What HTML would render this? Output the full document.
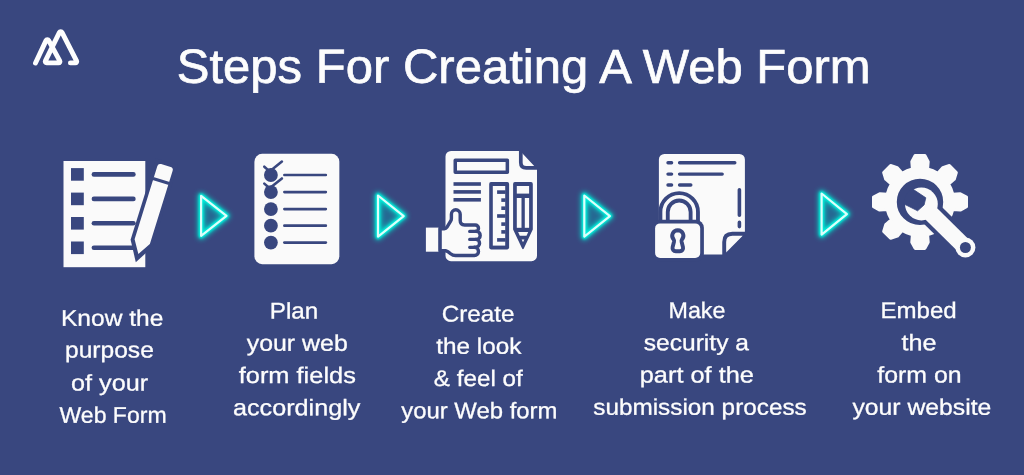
<!DOCTYPE html>
<html lang="en">
<head>
<meta charset="utf-8">
<title>Steps For Creating A Web Form</title>
<style>
html,body{margin:0;padding:0;}
body{width:1024px;height:475px;overflow:hidden;background:#39477f;position:relative;
font-family:"Liberation Sans",sans-serif;}
#art{position:absolute;left:0;top:0;width:1024px;height:475px;display:block;}
#txt{position:absolute;left:0;top:0;width:1024px;height:475px;will-change:transform;}
.step{margin:0;padding:0;}
.t{position:absolute;left:0;top:0;display:block;font-weight:normal;white-space:nowrap;color:#fdfdfd;margin:0;padding:0;transform-origin:0 0;text-rendering:geometricPrecision;-webkit-text-stroke:0.3px #fdfdfd;}
.title{font-size:47.9px;line-height:60px;-webkit-text-stroke-width:0.7px;}
.body{font-size:22.6px;line-height:30px;}
</style>
</head>
<body>
<svg id="art" width="1024" height="475" viewBox="0 0 1024 475" role="img" aria-label="Five step icons separated by arrows">
<defs>
<filter id="glow" x="-80%" y="-50%" width="260%" height="200%"><feGaussianBlur stdDeviation="2.8"/></filter>
<filter id="glow2" x="-60%" y="-40%" width="220%" height="180%"><feGaussianBlur stdDeviation="1.0"/></filter>
<clipPath id="headclip"><circle cx="921.4" cy="204" r="17.6"/></clipPath>
<filter id="glow3" x="-60%" y="-40%" width="220%" height="180%"><feGaussianBlur stdDeviation="0.45"/></filter>
</defs>
<path d="M35.50 63.00 L46.12 40.40 A1.4 1.4 0 0 1 48.62 40.33 L59.77 60.83 A1.4 1.4 0 0 1 58.54 62.90 L46.65 62.90 A1.4 1.4 0 0 1 45.40 60.88 L59.47 32.40 A1.4 1.4 0 0 1 61.97 32.38 L76.56 60.86 A1.4 1.4 0 0 1 75.31 62.90 L70.40 62.90" fill="none" stroke="#fdfdfd" stroke-width="4.9" stroke-linecap="round" stroke-linejoin="round"/>
<g><path d="M201.1 195.9 L226.5 215.9 L201.1 235.9 Z" fill="#0aa8b8" fill-opacity="0.4" stroke="#00dccc" stroke-width="7" stroke-linejoin="round" filter="url(#glow)" opacity="0.85"/><path d="M201.1 195.9 L226.5 215.9 L201.1 235.9 Z" fill="none" stroke="#00f2de" stroke-width="4.6" stroke-linejoin="round" filter="url(#glow2)"/><path d="M201.1 195.9 L226.5 215.9 L201.1 235.9 Z" fill="none" stroke="#dcfffb" stroke-width="2.2" stroke-linejoin="round" filter="url(#glow3)"/></g>
<g><path d="M378.0 195.5 L403.7 216.05 L378.0 236.6 Z" fill="#0aa8b8" fill-opacity="0.4" stroke="#00dccc" stroke-width="7" stroke-linejoin="round" filter="url(#glow)" opacity="0.85"/><path d="M378.0 195.5 L403.7 216.05 L378.0 236.6 Z" fill="none" stroke="#00f2de" stroke-width="4.6" stroke-linejoin="round" filter="url(#glow2)"/><path d="M378.0 195.5 L403.7 216.05 L378.0 236.6 Z" fill="none" stroke="#dcfffb" stroke-width="2.2" stroke-linejoin="round" filter="url(#glow3)"/></g>
<g><path d="M584.3 195.5 L609.9 216.05 L584.3 236.6 Z" fill="#0aa8b8" fill-opacity="0.4" stroke="#00dccc" stroke-width="7" stroke-linejoin="round" filter="url(#glow)" opacity="0.85"/><path d="M584.3 195.5 L609.9 216.05 L584.3 236.6 Z" fill="none" stroke="#00f2de" stroke-width="4.6" stroke-linejoin="round" filter="url(#glow2)"/><path d="M584.3 195.5 L609.9 216.05 L584.3 236.6 Z" fill="none" stroke="#dcfffb" stroke-width="2.2" stroke-linejoin="round" filter="url(#glow3)"/></g>
<g><path d="M821.6 193.5 L846.9 214.05 L821.6 234.6 Z" fill="#0aa8b8" fill-opacity="0.4" stroke="#00dccc" stroke-width="7" stroke-linejoin="round" filter="url(#glow)" opacity="0.85"/><path d="M821.6 193.5 L846.9 214.05 L821.6 234.6 Z" fill="none" stroke="#00f2de" stroke-width="4.6" stroke-linejoin="round" filter="url(#glow2)"/><path d="M821.6 193.5 L846.9 214.05 L821.6 234.6 Z" fill="none" stroke="#dcfffb" stroke-width="2.2" stroke-linejoin="round" filter="url(#glow3)"/></g>
<g id="i1">
<rect x="63.5" y="161" width="81.8" height="106.2" fill="#fafafa"/>
<rect x="71" y="168.1" width="12.8" height="12.6" fill="#39477f"/>
<path d="M93.9 174.4 H133.4" stroke="#39477f" stroke-width="4.6" stroke-linecap="round"/>
<rect x="71" y="192.6" width="12.8" height="12.6" fill="#39477f"/>
<path d="M93.9 198.9 H133.4" stroke="#39477f" stroke-width="4.6" stroke-linecap="round"/>
<rect x="71" y="217.0" width="12.8" height="12.6" fill="#39477f"/>
<path d="M93.9 223.3 H133.4" stroke="#39477f" stroke-width="4.6" stroke-linecap="round"/>
<rect x="71" y="241.5" width="12.8" height="12.6" fill="#39477f"/>
<path d="M93.9 247.8 H133.4" stroke="#39477f" stroke-width="4.6" stroke-linecap="round"/>
<g transform="translate(165.9 165.6) rotate(17.3)">
<path d="M-11.6 -4 H11.6 V81.4 L0 101.2 L-11.6 81.4 Z" fill="#39477f"/>
<path d="M-8 3 A3 3 0 0 1 -5 0 H5 A3 3 0 0 1 8 3 V79.6 L0 92.6 L-8 79.6 Z" fill="#fafafa"/>
<rect x="-8.5" y="14.6" width="17" height="3.1" fill="#39477f"/>
</g></g>
<g id="i2">
<rect x="254.4" y="153.85" width="84.95" height="110.3" rx="7.8" fill="#fafafa"/>
<circle cx="270.9" cy="175" r="6.9" fill="#39477f"/>
<path d="M284.4 175 H325.8" stroke="#39477f" stroke-width="2.7" stroke-linecap="round"/>
<circle cx="270.9" cy="192.1" r="6.9" fill="#39477f"/>
<path d="M284.4 192.1 H325.8" stroke="#39477f" stroke-width="2.7" stroke-linecap="round"/>
<circle cx="270.9" cy="209.1" r="6.9" fill="#39477f"/>
<path d="M284.4 209.1 H325.8" stroke="#39477f" stroke-width="2.7" stroke-linecap="round"/>
<circle cx="270.9" cy="225.7" r="6.9" fill="#39477f"/>
<path d="M284.4 225.7 H325.8" stroke="#39477f" stroke-width="2.7" stroke-linecap="round"/>
<circle cx="270.9" cy="242.6" r="6.9" fill="#39477f"/>
<path d="M284.4 242.6 H325.8" stroke="#39477f" stroke-width="2.7" stroke-linecap="round"/>
<path d="M264.3 166.7 L269.6 171.4 L281.9 161.6" fill="none" stroke="#39477f" stroke-width="2.6" stroke-linecap="round" stroke-linejoin="round"/>
<path d="M264.3 183.6 L269.6 188.3 L281.9 178.5" fill="none" stroke="#39477f" stroke-width="2.6" stroke-linecap="round" stroke-linejoin="round"/>
</g>
<g id="i3">
<path d="M451 150.9 H520.2 L537 168.9 V255.7 A5.5 5.5 0 0 1 531.5 261.2 H451 A5.5 5.5 0 0 1 445.5 255.7 V156.4 A5.5 5.5 0 0 1 451 150.9 Z" fill="#fafafa"/>
<path d="M520.8 149 V162.5 Q520.8 167.9 526.2 167.9 H538" fill="none" stroke="#39477f" stroke-width="3.7"/>
<rect x="455.25" y="160.15" width="52.1" height="12" fill="none" stroke="#39477f" stroke-width="3.5" stroke-linejoin="round"/>
<rect x="453.5" y="182.2" width="27.4" height="3.6" fill="#39477f"/>
<rect x="453.5" y="190.1" width="27.4" height="3.6" fill="#39477f"/>
<rect x="453.5" y="198.0" width="27.4" height="3.6" fill="#39477f"/>
<rect x="489.2" y="182.1" width="19.9" height="67.3" rx="1.8" fill="#39477f"/>
<rect x="492.8" y="186" width="12.4" height="59.6" fill="#fafafa"/>
<rect x="497.1" y="190.3" width="8.5" height="3.6" fill="#39477f"/>
<rect x="501.3" y="198.3" width="4.3" height="3.6" fill="#39477f"/>
<rect x="501.3" y="206.4" width="4.3" height="3.6" fill="#39477f"/>
<rect x="497.1" y="214.2" width="8.5" height="3.6" fill="#39477f"/>
<rect x="501.3" y="222.3" width="4.3" height="3.6" fill="#39477f"/>
<rect x="501.3" y="230.1" width="4.3" height="3.6" fill="#39477f"/>
<rect x="497.1" y="238.1" width="8.5" height="3.6" fill="#39477f"/>
<path d="M514.9 182.1 H531 A1.8 1.8 0 0 1 532.8 183.9 V229.5 L523.8 248.4 Q522.95 249.9 522.1 248.4 L513.1 229.5 V183.9 A1.8 1.8 0 0 1 514.9 182.1 Z" fill="#39477f"/>
<rect x="516.8" y="186" width="12.3" height="7.6" fill="#fafafa"/>
<rect x="516.8" y="198" width="4.7" height="29.8" fill="#fafafa"/>
<rect x="524.8" y="198" width="4.3" height="29.8" fill="#fafafa"/>
<path d="M518.1 232 H528.2 L526.5 235.8 H519.8 Z" fill="#fafafa"/>
<path d="M521.6 239.6 H524.4 L523 242.3 Z" fill="#fafafa"/>
<rect x="425.9" y="227.6" width="12.6" height="24.1" fill="#fafafa"/>
<path d="M440.1 228.8 H444.3 Q446 228.8 447 227.2 L450.6 221.2 Q451.4 219.9 451.4 218.4 V214.2 A4.4 4.4 0 0 1 460.2 214.2 V220.6 Q460.2 225 464.6 225 H475.3 A3.2 3.2 0 0 1 475.3 231.4 H476.2 A4 4 0 0 1 476.2 239.4 H475.6 A3.95 3.95 0 0 1 475.6 247.3 H474.4 A4.1 4.1 0 0 1 474.4 255.5 H455.5 Q452.8 255.5 450.6 253.7 Q448 251.4 445.5 250.7 L440.1 250.6 Z" fill="#fafafa" stroke="#39477f" stroke-width="3.4" stroke-linejoin="round"/>
<path d="M469.7 231.4 H476.2 M469.7 239.4 H476.2 M469.7 247.3 H475" fill="none" stroke="#39477f" stroke-width="3.3" stroke-linecap="round"/>
</g>
<g id="i4">
<path d="M664.4 153.9 H739.4 A5.5 5.5 0 0 1 744.9 159.4 V233 L723 254.6 H664.4 A5.5 5.5 0 0 1 658.9 249.1 V159.4 A5.5 5.5 0 0 1 664.4 153.9 Z" fill="#fafafa"/>
<path d="M668 162.7 H671.6 M679.6 162.7 H734.8" stroke="#39477f" stroke-width="3.4" stroke-linecap="round" fill="none"/>
<path d="M668 174.1 H671.6 M679.6 174.1 H722.2" stroke="#39477f" stroke-width="3.4" stroke-linecap="round" fill="none"/>
<path d="M668 185.0 H671.6 M679.6 185.0 H690.8" stroke="#39477f" stroke-width="3.4" stroke-linecap="round" fill="none"/>
<path d="M739.4 189.7 V215.3 M739.4 222.4 V226.6" stroke="#39477f" stroke-width="3.6" stroke-linecap="round" fill="none"/>
<path d="M726.1 252.4 V242.4 Q726.1 235.6 733 235.6 H742.9 Z" fill="#fafafa"/>
<path d="M724.2 256 V242 Q724.2 233.8 732.4 233.8 H746" fill="none" stroke="#39477f" stroke-width="3.9"/>
<path d="M664.1 224 V211.9 A15.1 15.1 0 0 1 694.3 211.9 V224" fill="none" stroke="#39477f" stroke-width="11.2"/>
<path d="M664.1 224 V211.9 A15.1 15.1 0 0 1 694.3 211.9 V224" fill="none" stroke="#fafafa" stroke-width="3.5"/>
<rect x="651.6" y="219.8" width="52.3" height="41.8" rx="8" fill="#39477f"/>
<rect x="655.1" y="223.4" width="45.1" height="34.5" rx="5" fill="#fafafa"/>
<path d="M677.8 230.2 A5.6 5.6 0 0 1 681.9 239.6 Q681.3 240.5 681.6 241.8 L683 247.2 A3.2 3.2 0 0 1 679.9 251.2 H675.7 A3.2 3.2 0 0 1 672.6 247.2 L674 241.8 Q674.3 240.5 673.7 239.6 A5.6 5.6 0 0 1 677.8 230.2 Z" fill="#fafafa" stroke="#39477f" stroke-width="3.9" stroke-linejoin="round"/>
</g>
<g id="i5">
<path d="M912.40 169.07 L911.80 161.60 L915.10 155.40 L924.90 155.40 L928.20 161.60 L927.60 169.07 A33.7 33.7 0 0 1 937.84 173.31 L942.70 167.61 L949.42 165.55 L956.35 172.48 L954.29 179.20 L948.59 184.06 A33.7 33.7 0 0 1 952.83 194.30 L960.30 193.70 L966.50 197.00 L966.50 206.80 L960.30 210.10 L952.83 209.50 A33.7 33.7 0 0 1 948.59 219.74 L954.29 224.60 L956.35 231.32 L949.42 238.25 L942.70 236.19 L937.84 230.49 A33.7 33.7 0 0 1 927.60 234.73 L928.20 242.20 L924.90 248.40 L915.10 248.40 L911.80 242.20 L912.40 234.73 A33.7 33.7 0 0 1 902.16 230.49 L897.30 236.19 L890.58 238.25 L883.65 231.32 L885.71 224.60 L891.41 219.74 A33.7 33.7 0 0 1 887.17 209.50 L879.70 210.10 L873.50 206.80 L873.50 197.00 L879.70 193.70 L887.17 194.30 A33.7 33.7 0 0 1 891.41 184.06 L885.71 179.20 L883.65 172.48 L890.58 165.55 L897.30 167.61 L902.16 173.31 A33.7 33.7 0 0 1 912.40 169.07 Z M944.7 201.9 A24.7 24.7 0 1 0 895.3 201.9 A24.7 24.7 0 1 0 944.7 201.9 Z" fill="#fafafa" fill-rule="evenodd" stroke="#fafafa" stroke-width="3.0" stroke-linejoin="round"/>
<path d="M921.4 204.0 L965.4 247.5" stroke="#39477f" stroke-width="24.6" fill="none"/>
<path d="M929.4 212.0 L965.4 247.5" stroke="#fafafa" stroke-width="16.4" fill="none"/>
<circle cx="965.4" cy="247.5" r="10" fill="#fafafa"/>
<circle cx="921.4" cy="204.0" r="16.4" fill="#fafafa"/>
<path d="M902.2 182 L925.8 197.8 L924.1 204.9 L917.6 210.8 L891.6 197.8 Z" fill="#39477f" stroke="#39477f" stroke-width="0.8" stroke-linejoin="round" clip-path="url(#headclip)"/>
<circle cx="965.4" cy="247.5" r="5.5" fill="#39477f"/>
</g>
</svg>
<div id="txt">
<h1 class="t title" style="transform:translate(176.75px,37.75px) skewY(0.03deg) scaleX(1.0238)">Steps For Creating A Web Form</h1>
<p class="step">
<span class="t body" style="transform:translate(61.00px,303.75px) skewY(0.03deg) scaleX(1.0863)">Know the</span>
<span class="t body" style="transform:translate(65.00px,335.50px) skewY(0.03deg) scaleX(1.0879)">purpose</span>
<span class="t body" style="transform:translate(71.00px,368.50px) skewY(0.03deg) scaleX(1.1175)">of your</span>
<span class="t body" style="transform:translate(59.50px,400.75px) skewY(0.03deg) scaleX(1.0196)">Web Form</span>
</p>
<p class="step">
<span class="t body" style="transform:translate(269.75px,296.50px) skewY(0.03deg) scaleX(1.0716)">Plan</span>
<span class="t body" style="transform:translate(246.75px,328.75px) skewY(0.03deg) scaleX(1.1014)">your web</span>
<span class="t body" style="transform:translate(238.75px,361.00px) skewY(0.03deg) scaleX(1.1235)">form fields</span>
<span class="t body" style="transform:translate(233.00px,393.25px) skewY(0.03deg) scaleX(1.1140)">accordingly</span>
</p>
<p class="step">
<span class="t body" style="transform:translate(441.75px,299.50px) skewY(0.03deg) scaleX(1.0733)">Create</span>
<span class="t body" style="transform:translate(436.25px,331.75px) skewY(0.03deg) scaleX(1.0751)">the look</span>
<span class="t body" style="transform:translate(433.75px,364.00px) skewY(0.03deg) scaleX(1.0734)">&amp; feel of</span>
<span class="t body" style="transform:translate(401.25px,396.25px) skewY(0.03deg) scaleX(1.0574)">your Web form</span>
</p>
<p class="step">
<span class="t body" style="transform:translate(668.50px,296.00px) skewY(0.03deg) scaleX(1.0313)">Make</span>
<span class="t body" style="transform:translate(643.75px,328.25px) skewY(0.03deg) scaleX(1.0880)">security a</span>
<span class="t body" style="transform:translate(639.75px,360.50px) skewY(0.03deg) scaleX(1.1221)">part of the</span>
<span class="t body" style="transform:translate(593.25px,392.75px) skewY(0.03deg) scaleX(1.0761)">submission process</span>
</p>
<p class="step">
<span class="t body" style="transform:translate(880.50px,296.00px) skewY(0.03deg) scaleX(1.0650)">Embed</span>
<span class="t body" style="transform:translate(901.50px,328.25px) skewY(0.03deg) scaleX(1.1144)">the</span>
<span class="t body" style="transform:translate(877.25px,360.50px) skewY(0.03deg) scaleX(1.1005)">form on</span>
<span class="t body" style="transform:translate(852.50px,392.75px) skewY(0.03deg) scaleX(1.0945)">your website</span>
</p>
</div>
</body>
</html>
